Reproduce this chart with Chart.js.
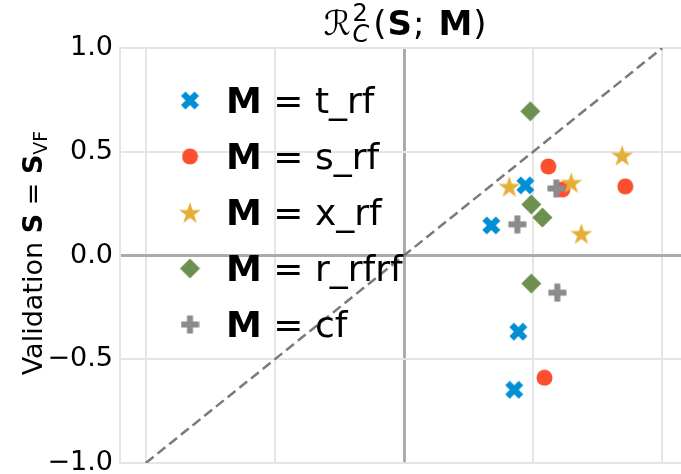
<!DOCTYPE html>
<html>
<head>
<meta charset="utf-8">
<script src="https://cdn.jsdelivr.net/npm/chart.js@4/dist/chart.umd.min.js"></script>
<style>
  html, body { margin: 0; padding: 0; background: #fff; overflow: hidden; width: 681px; height: 474px; }
  canvas { display: block; }
</style>
</head>
<body>
<canvas id="c" width="700" height="500" style="width:700px;height:500px"></canvas>
<script>
// Model names and their colours
const seriesNames = ['t_rf', 's_rf', 'x_rf', 'r_rfrf', 'cf'];
const seriesColors = ['#008fd5', '#fc4f30', '#e5ae38', '#6d904f', '#8b8b8b'];
const seriesMarkers = ['X', 'o', '*', 'D', 'P'];

// R^2 on the validation set, one point per run
const tRfX = [0.470, 0.338, 0.443, 0.427];
const tRfY = [0.338, 0.145, -0.367, -0.647];
const sRfX = [0.559, 0.613, 0.857, 0.544];
const sRfY = [0.429, 0.318, 0.333, -0.589];
const xRfX = [0.408, 0.648, 0.845, 0.687];
const xRfY = [0.333, 0.352, 0.483, 0.106];
const rRfrfX = [0.489, 0.493, 0.536, 0.493];
const rRfrfY = [0.695, 0.246, 0.183, -0.135];
const cfX = [0.590, 0.439, 0.594];
const cfY = [0.323, 0.150, -0.179];

// Reference diagonal y = x
const diagX = [-1, 1];
const diagY = [-1, 1];

const xTicks = [-1, -0.5, 0, 0.5, 1];
const yTicks = [-1, -0.5, 0, 0.5, 1];

const FONT = "'DejaVu Sans', sans-serif";

function pairs(xs, ys) { return xs.map((x, i) => ({ x: x, y: ys[i] })); }

// Filled marker shapes rendered onto small canvases
function markerCanvas(kind, color, size) {
  const c = document.createElement('canvas');
  c.width = size; c.height = size;
  const g = c.getContext('2d');
  g.fillStyle = color;
  g.translate(size / 2, size / 2);
  const r = size / 2 - 0.5;
  g.beginPath();
  let pts = null;
  if (kind === 'X') {
    pts = [[-1,-2],[0,-1],[1,-2],[2,-1],[1,0],[2,1],[1,2],[0,1],[-1,2],[-2,1],[-1,0],[-2,-1]].map(p => [p[0] * r / 2, p[1] * r / 2]);
  } else if (kind === 'P') {
    pts = [[-1,-3],[1,-3],[1,-1],[3,-1],[3,1],[1,1],[1,3],[-1,3],[-1,1],[-3,1],[-3,-1],[-1,-1]].map(p => [p[0] * r / 3, p[1] * r / 3]);
  } else if (kind === 'D') {
    pts = [[0,-r],[r,0],[0,r],[-r,0]];
  } else if (kind === '*') {
    pts = [];
    for (let i = 0; i < 10; i++) {
      const a = -Math.PI / 2 + i * Math.PI / 5;
      const rr = i % 2 === 0 ? r : r * 0.381966;
      pts.push([rr * Math.cos(a), rr * Math.sin(a) + r * 0.1]);
    }
  }
  if (pts) {
    g.moveTo(pts[0][0], pts[0][1]);
    for (let i = 1; i < pts.length; i++) g.lineTo(pts[i][0], pts[i][1]);
    g.closePath();
  } else {
    g.arc(0, 0, r, 0, Math.PI * 2);
  }
  g.fill();
  return c;
}

const markerSizes = { 'X': 19, 'o': 17, '*': 24, 'D': 21, 'P': 19 };
const markerImgs = seriesMarkers.map((m, i) => markerCanvas(m, seriesColors[i], markerSizes[m]));

const seriesData = [
  pairs(tRfX, tRfY),
  pairs(sRfX, sRfY),
  pairs(xRfX, xRfY),
  pairs(rRfrfX, rRfrfY),
  pairs(cfX, cfY)
];

const datasets = seriesNames.map((name, i) => ({
  label: 'M = ' + name,
  data: seriesData[i],
  pointStyle: markerImgs[i],
  pointRadius: markerSizes[seriesMarkers[i]] / 2,
  backgroundColor: seriesColors[i],
  borderColor: seriesColors[i],
  borderWidth: 0,
  order: seriesNames.length - i
}));
datasets.push({
  type: 'line',
  label: 'diagonal',
  data: pairs(diagX, diagY),
  borderColor: '#7a7a7a',
  borderWidth: 2.5,
  borderDash: [10, 5],
  pointRadius: 0,
  fill: false,
  order: 20
});

function drawRuns(ctx, runs, x, y, measureOnly) {
  let cx = x;
  for (const run of runs) {
    ctx.font = run.font;
    const w = ctx.measureText(run.text).width;
    if (!measureOnly) ctx.fillText(run.text, cx, y + (run.dy || 0));
    if (!run.stack) cx += w + (run.gap || 0);
  }
  return cx - x;
}

// Title and y-axis label with mixed weights, sub- and superscripts
const textPlugin = {
  id: 'mathText',
  afterDraw(chart) {
    const ctx = chart.ctx;
    ctx.save();
    ctx.fillStyle = '#000';
    ctx.textBaseline = 'alphabetic';
    const ts = 34;
    const small = Math.round(ts * 0.7);
    const titleRuns = [
      { text: '\u211B', font: `${ts}px ${FONT}`, gap: 2 },
      { text: '2', font: `${small}px ${FONT}`, dy: -14, stack: true },
      { text: 'C', font: `italic ${small}px ${FONT}`, dy: 7, gap: 4 },
      { text: '(', font: `${ts}px ${FONT}`, gap: 1 },
      { text: 'S', font: `bold ${ts}px ${FONT}`, gap: 1 },
      { text: ';', font: `${ts}px ${FONT}`, gap: 14 },
      { text: 'M', font: `bold ${ts}px ${FONT}`, gap: 1 },
      { text: ')', font: `${ts}px ${FONT}` }
    ];
    const tw = drawRuns(ctx, titleRuns, 0, 0, true);
    drawRuns(ctx, titleRuns, 405 - tw / 2, 35);

    const ls = 27;
    const labelRuns = [
      { text: 'Validation ', font: `${ls}px ${FONT}` },
      { text: 'S', font: `bold ${ls}px ${FONT}` },
      { text: ' = ', font: `${ls}px ${FONT}` },
      { text: 'S', font: `bold ${ls}px ${FONT}` },
      { text: 'VF', font: `${Math.round(ls * 0.7)}px ${FONT}`, dy: 5 }
    ];
    const lw = drawRuns(ctx, labelRuns, 0, 0, true);
    ctx.translate(42, 253);
    ctx.rotate(-Math.PI / 2);
    drawRuns(ctx, labelRuns, -lw / 2, 0);
    ctx.restore();

    // Legend in the upper-left corner of the axes
    ctx.save();
    ctx.fillStyle = '#000';
    ctx.textBaseline = 'alphabetic';
    const fs = 36;
    seriesNames.forEach((name, i) => {
      const cy = 100.5 + i * 56;
      const img = markerImgs[i];
      ctx.drawImage(img, 190 - img.width / 2, cy - img.height / 2);
      drawRuns(ctx, [
        { text: 'M', font: `bold ${fs}px ${FONT}` },
        { text: ' = ', font: `${fs}px ${FONT}` },
        { text: name, font: `${fs}px ${FONT}` }
      ], 226, cy + 12);
    });
    ctx.restore();
  }
};

const gridColor = c => (c.tick && c.tick.value === 0) ? '#ababab' : '#e5e5e5';
const gridWidth = c => (c.tick && c.tick.value === 0) ? 3 : 2;

new Chart(document.getElementById('c'), {
  type: 'scatter',
  data: { datasets: datasets },
  options: {
    responsive: false,
    animation: false,
    devicePixelRatio: 1,
    layout: { padding: { top: 48, right: 11, bottom: 37, left: 0 } },
    plugins: {
      legend: { display: false },
      tooltip: { enabled: false },
      title: { display: false }
    },
    scales: {
      x: {
        type: 'linear',
        min: -1.1,
        max: 1.1,
        afterBuildTicks: s => { s.ticks = xTicks.map(v => ({ value: v })); },
        afterFit: s => { s.height = 0; },
        ticks: { display: false },
        grid: { color: gridColor, lineWidth: gridWidth, drawTicks: false },
        border: { display: true, color: '#e5e5e5', width: 2 }
      },
      y: {
        type: 'linear',
        min: -1,
        max: 1,
        afterBuildTicks: s => { s.ticks = yTicks.map(v => ({ value: v })); },
        afterFit: s => { s.width = 120; },
        ticks: {
          color: '#000',
          padding: 7,
          font: { family: FONT, size: 27 },
          callback: v => v.toFixed(1).replace('-', '\u2212')
        },
        grid: { color: gridColor, lineWidth: gridWidth, drawTicks: false },
        border: { display: true, color: '#e5e5e5', width: 2 }
      }
    }
  },
  plugins: [textPlugin]
});
</script>
</body>
</html>
